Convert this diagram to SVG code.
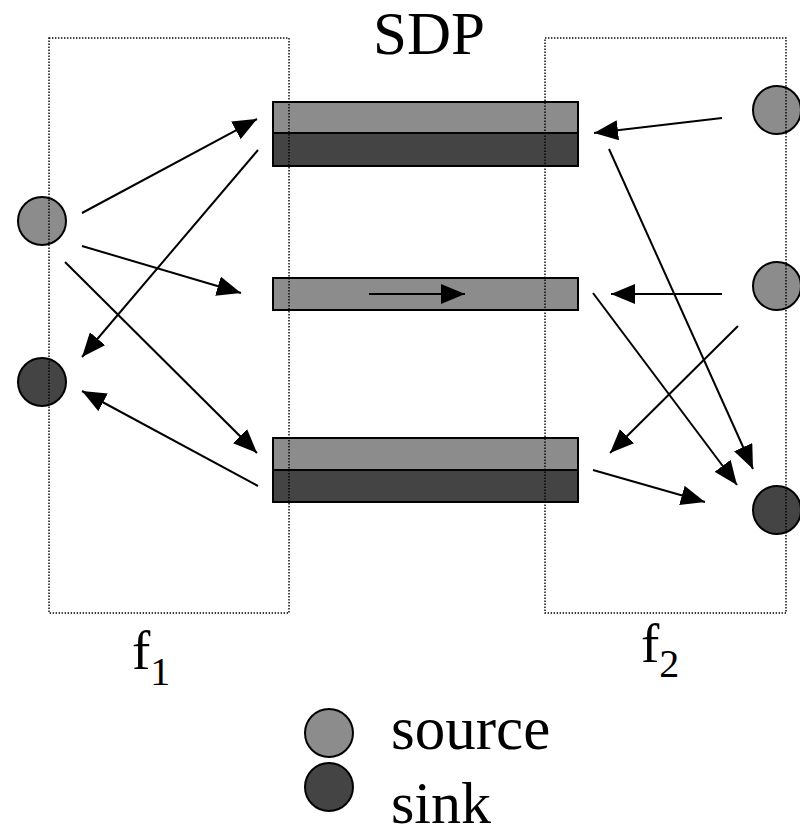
<svg xmlns="http://www.w3.org/2000/svg" width="800" height="836" viewBox="0 0 800 836">
  <style>
    .src { fill: #8c8c8c; stroke: #000; stroke-width: 2; }
    .snk { fill: #444444; stroke: #000; stroke-width: 2; }
    .bar-lt { fill: #8c8c8c; stroke: #000; stroke-width: 2; }
    .bar-dk { fill: #444444; stroke: #000; stroke-width: 2; }
    .frame { fill: none; stroke: #000; stroke-width: 1.4; stroke-dasharray: 1.4 1.6; }
    .edge { stroke: #000; stroke-width: 2; fill: none; marker-end: url(#head); }
    text { font-family: "Liberation Serif", "Times New Roman", serif; fill: #000; }
  </style>
  <defs>
    <marker id="head" viewBox="0 0 24 20" refX="24" refY="10" markerWidth="24" markerHeight="20" markerUnits="userSpaceOnUse" orient="auto">
      <path d="M0,0 L24,10 L0,20 Z" fill="#000"/>
    </marker>
  </defs>
  <rect width="800" height="836" fill="#fff"/>

  <!-- SDP bars -->
  <g id="bar-top">
    <rect class="bar-lt" x="273" y="102" width="305" height="31"/>
    <rect class="bar-dk" x="273" y="133" width="305" height="33"/>
  </g>
  <g id="bar-mid">
    <rect class="bar-lt" x="273" y="278" width="305" height="32"/>
  </g>
  <g id="bar-bot">
    <rect class="bar-lt" x="273" y="438" width="305" height="32"/>
    <rect class="bar-dk" x="273" y="470" width="305" height="32"/>
  </g>

  <!-- endpoints -->
  <g id="f1-source"><circle class="src" cx="42" cy="221" r="24"/></g>
  <g id="f1-sink"><circle class="snk" cx="42" cy="382" r="24"/></g>
  <g id="f2-source-a"><circle class="src" cx="777" cy="110" r="24"/></g>
  <g id="f2-source-b"><circle class="src" cx="777" cy="286" r="24"/></g>
  <g id="f2-sink"><circle class="snk" cx="777" cy="510" r="24"/></g>

  <!-- connectors -->
  <g id="connectors">
    <line class="edge" x1="82" y1="213" x2="257" y2="119"/>
    <line class="edge" x1="82" y1="246" x2="241" y2="293"/>
    <line class="edge" x1="65" y1="262" x2="257" y2="453"/>
    <line class="edge" x1="258" y1="150" x2="82" y2="357"/>
    <line class="edge" x1="258" y1="486" x2="82" y2="391"/>
    <line class="edge" x1="369" y1="294" x2="465" y2="294"/>
    <line class="edge" x1="722" y1="118" x2="594" y2="133"/>
    <line class="edge" x1="609" y1="149" x2="753" y2="469"/>
    <line class="edge" x1="722" y1="294" x2="611" y2="294"/>
    <line class="edge" x1="593" y1="293" x2="737" y2="485"/>
    <line class="edge" x1="738" y1="326" x2="610" y2="453"/>
    <line class="edge" x1="593" y1="470" x2="705" y2="502"/>
  </g>

  <!-- domain frames -->
  <g id="f1-frame"><rect class="frame" x="49" y="38" width="240" height="575"/></g>
  <g id="f2-frame"><rect class="frame" x="545" y="38" width="241" height="575"/></g>

  <!-- labels -->
  <text x="429" y="54" font-size="61" text-anchor="middle">SDP</text>
  <text x="132" y="669" font-size="55">f<tspan font-size="40" dy="16">1</tspan></text>
  <text x="641" y="662" font-size="55">f<tspan font-size="40" dy="15">2</tspan></text>

  <!-- legend -->
  <g id="legend-source">
    <circle class="src" cx="329" cy="733" r="24"/>
    <text x="391" y="749" font-size="61">source</text>
  </g>
  <g id="legend-sink">
    <circle class="snk" cx="329" cy="787" r="24"/>
    <text x="391" y="823" font-size="60">sink</text>
  </g>
</svg>
